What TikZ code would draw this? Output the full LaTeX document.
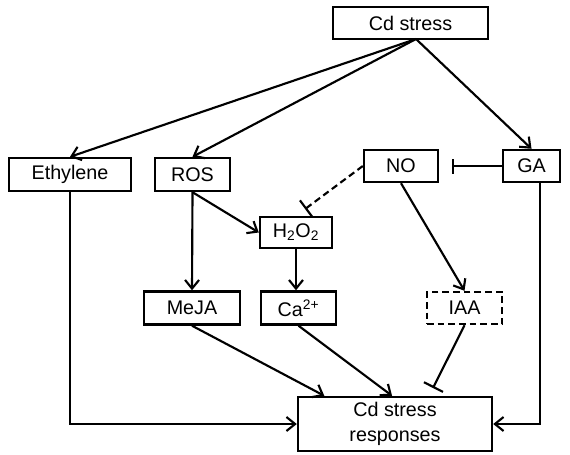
\documentclass[tikz,border=0pt]{standalone}
\usepackage{fontspec}
\setmainfont{Liberation Sans}
\usetikzlibrary{arrows.meta,calc}
\begin{document}
\begin{tikzpicture}[x=0.75pt,y=-0.75pt,
  box/.style={draw,line width=1.8pt,rectangle,inner sep=0pt,align=center,
    font=\fontsize{14.8}{18.75}\selectfont},
  dashbox/.style={box,dash pattern=on 5pt off 3pt},
  act/.style={line width=1.6pt,-{Straight Barb[length=6.5pt,width=10.5pt]}},
  inh/.style={line width=1.6pt,-{Bar[width=#1]}},
  inh/.default=12pt]
\useasboundingbox (0,0) rectangle (570,454);

% signalling components
\node[box,minimum width=116.25pt,minimum height=24pt] (cd) at (410.5,23) {Cd stress};
\node[box,minimum width=91.5pt,minimum height=24.75pt] (eth) at (70,174.5) {Ethylene};
\node[box,minimum width=56.25pt,minimum height=24.75pt] (ros) at (192.5,174.5) {ROS};
\node[box,minimum width=55.5pt,minimum height=24pt] (no) at (401,166) {NO};
\node[box,minimum width=42.75pt,minimum height=24pt] (ga) at (531.5,166) {GA};
\node[box,minimum width=54pt,minimum height=23.25pt] (h2o2) at (296,232.5) {H\textsubscript{2}O\textsubscript{2}};
\node[box,minimum width=72pt,minimum height=24.75pt] (meja) at (192,308) {MeJA};
\node[box,minimum width=56.25pt,minimum height=24.75pt] (ca) at (298.5,308) {Ca\textsuperscript{2+}};
\node[dashbox,minimum width=56.25pt,minimum height=24pt] (iaa) at (464.5,308) {IAA};
\node[box,minimum width=145.5pt,minimum height=40.5pt] (resp) at (395,424) {Cd stress\\responses};

% branching point under the Cd stress box
\coordinate (cdsrc) at (416,39);
\coordinate (iaaend) at (433,388);

% activation
\draw[act] (cdsrc) -- (eth.north);
\draw[act] (cdsrc) -- (ros.north);
\draw[act] (cdsrc) -- (ga.north);
\draw[act] (ros.south) -- (meja.north);
\draw[act] (ros.south) -- (h2o2.west);
\draw[act] (h2o2.south) -- (h2o2.south |- ca.north);
\draw[act] (no.south) -- (iaa.north);
\draw[act] (meja.south) -- ($(resp.north west)!0.14!(resp.north east)$);
\draw[act] (ca.south) -- ($(resp.north west)!0.485!(resp.north east)$);
\draw[act] (eth.south) |- (resp.west);
\draw[act] ($(ga.south west)!0.64!(ga.south east)$) |- (resp.east);

% inhibition
\draw[inh=11.25pt,shorten >=9.75pt] (ga.west) -- (no.east);
\draw[inh=15pt,dash pattern=on 5pt off 3pt,shorten >=8.5pt] (no.west) -- (h2o2.north);
\draw[inh=16pt] (iaa.south) -- (iaaend);
\end{tikzpicture}
\end{document}
